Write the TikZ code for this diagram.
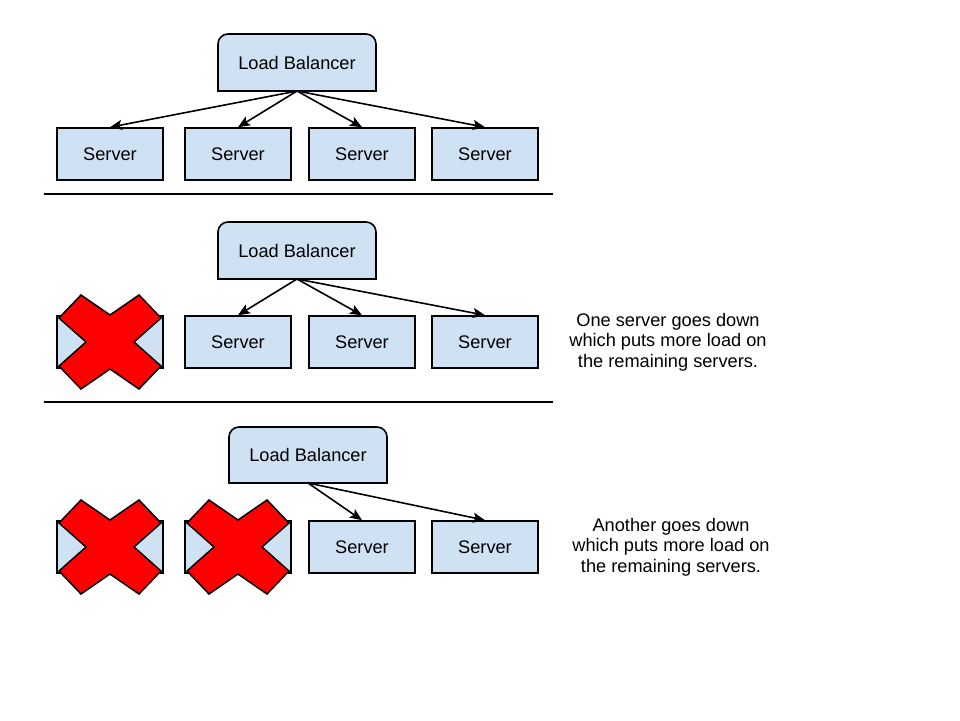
\documentclass[tikz,border=0pt]{standalone}
\usepackage{fontspec}
\setmainfont{Liberation Sans}
\usetikzlibrary{arrows.meta}
\definecolor{boxblue}{HTML}{CFE2F3}
\definecolor{xred}{HTML}{FF0000}
\begin{document}
\begin{tikzpicture}[x=1pt,y=-1pt,
  txt/.style={font=\fontsize{18.2}{20.5}\selectfont},
  server/.style={draw=black,line width=1.6pt,fill=boxblue,minimum width=106pt,minimum height=52pt,inner sep=0pt,txt},
  lbbox/.style={draw=black,line width=1.6pt,fill=boxblue},
  arr/.style={line width=1.6pt,-{Stealth[length=12pt,width=10pt,inset=2.5pt]}},
  sep/.style={line width=1.5pt},
  cross/.style={draw=black,line width=1.5pt,fill=xred,line join=miter},
  note/.style={txt,align=center}
]
\useasboundingbox (0,0) rectangle (960,720);
\fill[white] (0,0) rectangle (960,720);
\newcommand{\lbshape}[4]{% x1 y1 x2 y2 (y1 top)
  \path[lbbox] (#1,#4) -- (#1,#2+10) arc[start angle=180,end angle=270,radius=10]
    -- (#3-10,#2) arc[start angle=270,end angle=360,radius=10] -- (#3,#4) -- cycle;}
\newcommand{\xmark}[2]{%
  \draw[cross] (#1+0,#2-27) -- (#1-29,#2-47) -- (#1-51,#2-24) -- (#1-24,#2) -- (#1-51,#2+24) -- (#1-29,#2+47) -- (#1,#2+27) -- (#1+29,#2+47) -- (#1+51,#2+24) -- (#1+24,#2) -- (#1+51,#2-24) -- (#1+29,#2-47) -- cycle;}
% ---- panel 1
\lbshape{218}{34}{376}{91}
\node[txt] (lb1) at (297,62.5) {Load Balancer};
\coordinate (lb1b) at (297,91);
\node[server] (s11) at (110,154) {Server};
\node[server] (s12) at (238,154) {Server};
\node[server] (s13) at (362,154) {Server};
\node[server] (s14) at (485,154) {Server};
\foreach \s in {s11,s12,s13,s14} \draw[arr] (lb1b) -- (\s.north);
\coordinate (l1a) at (44,194); \coordinate (l1b) at (553,194);
\draw[sep] (l1a) -- (l1b);
% ---- panel 2
\lbshape{218}{222}{376}{279}
\node[txt] (lb2) at (297,250.5) {Load Balancer};
\coordinate (lb2b) at (297,279);
\node[server] (s21) at (110,342) {};
\node[server] (s22) at (238,342) {Server};
\node[server] (s23) at (362,342) {Server};
\node[server] (s24) at (485,342) {Server};
\foreach \s in {s22,s23,s24} \draw[arr] (lb2b) -- (\s.north);
\xmark{110}{342}
\node[note] (n2) at (668,342) {One server goes down\\which puts more load on\\the remaining servers.};
\coordinate (l2a) at (44,402); \coordinate (l2b) at (553,402);
\draw[sep] (l2a) -- (l2b);
% ---- panel 3
\lbshape{229}{427}{387}{483}
\node[txt] (lb3) at (308,455) {Load Balancer};
\coordinate (lb3b) at (308,483);
\node[server] (s31) at (110,547) {};
\node[server] (s32) at (238,547) {};
\node[server] (s33) at (362,547) {Server};
\node[server] (s34) at (485,547) {Server};
\foreach \s in {s33,s34} \draw[arr] (lb3b) -- (\s.north);
\xmark{110}{547}
\xmark{238}{547}
\node[note] (n3) at (671,547) {Another goes down\\which puts more load on\\the remaining servers.};
\end{tikzpicture}
\end{document}
